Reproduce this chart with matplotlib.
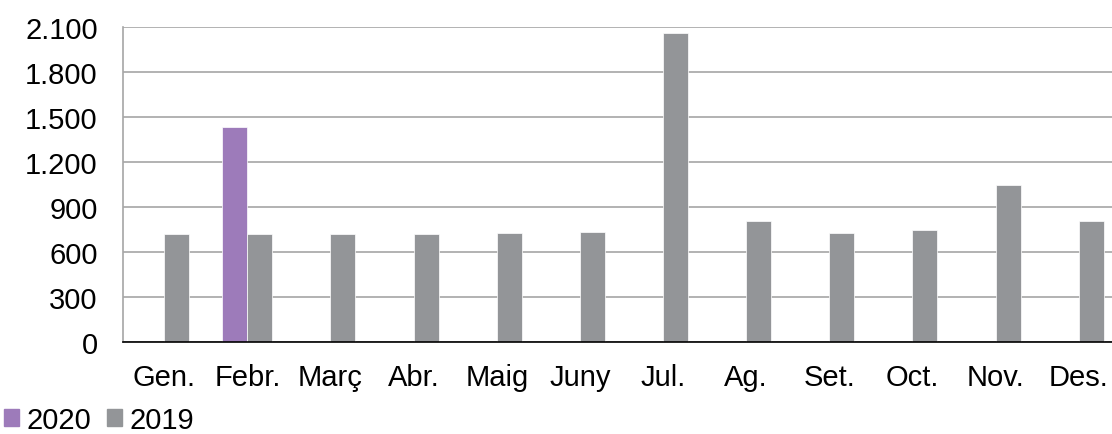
import numpy as np
import matplotlib
matplotlib.use('Agg')
import matplotlib.pyplot as plt
from matplotlib.patches import Patch
from matplotlib.ticker import FuncFormatter

plt.rcParams['font.family'] = ['Liberation Sans', 'DejaVu Sans']

# Dades (llegides del gràfic)
mesos = ['Gen.', 'Febr.', 'Març', 'Abr.', 'Maig', 'Juny', 'Jul.', 'Ag.', 'Set.', 'Oct.', 'Nov.', 'Des.']
valors_2020 = [np.nan, 1433, np.nan, np.nan, np.nan, np.nan, np.nan, np.nan, np.nan, np.nan, np.nan, np.nan]
valors_2019 = [716, 716, 716, 716, 723, 729, 2058, 805, 723, 743, 1047, 805]
ticks_y = [0, 300, 600, 900, 1200, 1500, 1800, 2100]

color_2020 = '#9D7BBA'
color_2019 = '#939598'

fig = plt.figure(figsize=(11.12, 4.35), dpi=100)
ax = fig.add_axes([0.1103, 0.2122, 0.8897, 0.7241])

x = np.arange(len(mesos))
amplada = 0.3
ax.bar(x - amplada / 2, valors_2020, amplada, color=color_2020, edgecolor='white', linewidth=0.5, zorder=3)
ax.bar(x + amplada / 2, valors_2019, amplada, color=color_2019, edgecolor='white', linewidth=0.5, zorder=3)

ax.set_xlim(-0.5, 11.4)
ax.set_ylim(0, 2100)
ax.set_xticks(x)
ax.set_xticklabels(mesos)
ax.set_yticks(ticks_y)
ax.yaxis.set_major_formatter(FuncFormatter(lambda v, p: f'{int(v):,}'.replace(',', '.')))
ax.tick_params(axis='both', length=0, labelsize=21)
ax.tick_params(axis='y', pad=18)
ax.tick_params(axis='x', pad=15.5)

ax.grid(axis='y', color='#a6a6a6', linewidth=1.2, zorder=0)
for s in ['top', 'right']:
    ax.spines[s].set_visible(False)
ax.spines['left'].set_color('#a6a6a6')
ax.spines['left'].set_linewidth(1.2)
ax.spines['bottom'].set_color('black')
ax.spines['bottom'].set_linewidth(1.2)
ax.spines['bottom'].set_zorder(4)

handles = [Patch(color=color_2020, label='2020'), Patch(color=color_2019, label='2019')]
fig.legend(handles=handles, loc='center left', bbox_to_anchor=(0.004, 0.032), ncol=2,
           frameon=False, fontsize=21, handlelength=0.5, handleheight=0.5,
           handletextpad=0.26, columnspacing=0.54, borderpad=0, borderaxespad=0)

fig.savefig('out.png', dpi=100)
